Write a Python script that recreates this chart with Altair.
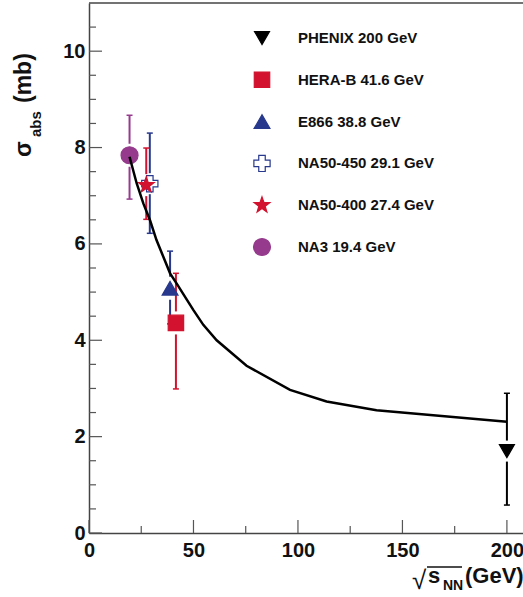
import math
import altair as alt
import pandas as pd

# ---------------- data ----------------
experiments = ["PHENIX 200 GeV", "HERA-B 41.6 GeV", "E866 38.8 GeV",
               "NA50-450 29.1 GeV", "NA50-400 27.4 GeV", "NA3 19.4 GeV"]
sqrt_s = [200.0, 41.6, 38.8, 29.1, 27.4, 19.4]
sigma = [1.70, 4.36, 5.08, 7.25, 7.22, 7.84]
err_low = [0.58, 2.99, 4.34, 6.22, 6.51, 6.93]
err_high = [2.90, 5.39, 5.85, 8.30, 7.99, 8.67]

curve_x = [19.4, 22.8, 26.0, 29.2, 32.3, 38.8, 41.9, 49.9, 54.7, 61.1, 75.4, 96.2, 113.7, 137.6, 200.0]
curve_y = [7.81, 7.26, 6.84, 6.49, 6.08, 5.39, 5.18, 4.63, 4.32, 4.00, 3.47, 2.97, 2.73, 2.55, 2.31]

x_major = [0, 50, 100, 150, 200]
x_minor = [25, 75, 125, 175]
y_major = [0, 2, 4, 6, 8, 10]
y_minor = [0.5, 1, 1.5, 2.5, 3, 3.5, 4.5, 5, 5.5, 6.5, 7, 7.5, 8.5, 9, 9.5, 10.5]

# ---------------- style ----------------
W, H = 434, 530
X_MAX, Y_MAX = 207.7, 11.0
PX_PER_UNIT = H / Y_MAX
FONT = "Liberation Sans"


def star_path(inner=0.40):
    pts = []
    for k in range(10):
        r = 1.0 if k % 2 == 0 else inner
        a = math.radians(-90 + 36 * k)
        pts.append(f"{r * math.cos(a):.4f},{r * math.sin(a):.4f}")
    return "M" + " L".join(pts) + " Z"


marker_shapes = ["triangle-down", "square", "triangle-up", "cross", star_path(), "circle"]
marker_stroke = ["#000000", "#D2122E", "#27388D", "#27388D", "#D2122E", "#953A8C"]
marker_fill = ["#000000", "#D2122E", "#27388D", "#FFFFFF", "#D2122E", "#953A8C"]
marker_px = [15, 17, 17, 15, 16, 17]

shape_scale = alt.Scale(domain=experiments, range=marker_shapes)
stroke_scale = alt.Scale(domain=experiments, range=marker_stroke)
fill_scale = alt.Scale(domain=experiments, range=marker_fill)
size_scale = alt.Scale(domain=experiments, range=[p * p for p in marker_px])

gap = [(p / 2 + 3) / PX_PER_UNIT for p in marker_px]

df = pd.DataFrame({"exp": experiments, "s": sqrt_s, "sigma": sigma,
                   "lo": err_low, "hi": err_high, "gap": gap})
df_curve = pd.DataFrame({"x": curve_x, "y": curve_y})

xs = alt.Scale(domain=[0, X_MAX], nice=False, zero=False)
ys = alt.Scale(domain=[0, Y_MAX], nice=False, zero=False)

axis_common = dict(labelFont=FONT, labelFontSize=20, labelFontWeight="bold",
                   labelColor="#111111", domainColor="#444444", domainWidth=1.5,
                   ticks=False, grid=False, title=None, labelFlush=False)

x_enc = alt.X("s:Q", scale=xs, axis=alt.Axis(values=x_major, labelPadding=7, format="d", **axis_common))
y_enc = alt.Y("sigma:Q", scale=ys, axis=alt.Axis(values=y_major, labelPadding=4, format="d", **axis_common))

base = alt.Chart(df).transform_calculate(
    lo_end="datum.sigma - datum.gap", hi_start="datum.sigma + datum.gap")

bar_low = base.mark_rule(strokeWidth=2).encode(
    x=x_enc, y=alt.Y("lo:Q", scale=ys), y2="lo_end:Q",
    color=alt.Color("exp:N", scale=stroke_scale, legend=None))
bar_high = base.mark_rule(strokeWidth=2).encode(
    x=alt.X("s:Q", scale=xs), y=alt.Y("hi_start:Q", scale=ys), y2="hi:Q",
    color=alt.Color("exp:N", scale=stroke_scale, legend=None))
caps_low = base.mark_point(shape="stroke", size=36, strokeWidth=1.5, opacity=1).encode(
    x=alt.X("s:Q", scale=xs), y=alt.Y("lo:Q", scale=ys),
    color=alt.Color("exp:N", scale=stroke_scale, legend=None))
caps_high = base.mark_point(shape="stroke", size=36, strokeWidth=1.5, opacity=1).encode(
    x=alt.X("s:Q", scale=xs), y=alt.Y("hi:Q", scale=ys),
    color=alt.Color("exp:N", scale=stroke_scale, legend=None))

points = alt.Chart(df).mark_point(opacity=1, fillOpacity=1, strokeWidth=1.2).encode(
    x=x_enc, y=y_enc,
    shape=alt.Shape("exp:N", scale=shape_scale, legend=None),
    fill=alt.Fill("exp:N", scale=fill_scale, legend=None),
    stroke=alt.Stroke("exp:N", scale=stroke_scale, legend=None),
    size=alt.Size("exp:N", scale=size_scale, legend=None))

curve = alt.Chart(df_curve).mark_line(color="black", strokeWidth=2.5).encode(
    x=alt.X("x:Q", scale=xs), y=alt.Y("y:Q", scale=ys))

tick_col = "#555555"
xt_major = alt.Chart(pd.DataFrame({"v": x_major})).mark_rule(color=tick_col, strokeWidth=1.2).encode(
    x=alt.X("v:Q", scale=xs), y=alt.value(H), y2=alt.value(H - 13))
xt_minor = alt.Chart(pd.DataFrame({"v": x_minor})).mark_rule(color=tick_col, strokeWidth=1.2).encode(
    x=alt.X("v:Q", scale=xs), y=alt.value(H), y2=alt.value(H - 7))
yt_major = alt.Chart(pd.DataFrame({"v": y_major})).mark_rule(color=tick_col, strokeWidth=1.2).encode(
    y=alt.Y("v:Q", scale=ys), x=alt.value(0), x2=alt.value(13))
yt_minor = alt.Chart(pd.DataFrame({"v": y_minor})).mark_rule(color=tick_col, strokeWidth=1.2).encode(
    y=alt.Y("v:Q", scale=ys), x=alt.value(0), x2=alt.value(7))
top_border = alt.Chart(pd.DataFrame({"v": [0]})).mark_rule(color="#444444", strokeWidth=1.5).encode(
    x=alt.value(0), x2=alt.value(W), y=alt.value(0))

one = pd.DataFrame({"v": [0]})


def txt(s, x, y, size, weight="bold", angle=0, align="left", baseline="alphabetic"):
    kw = dict(font=FONT, fontSize=size, fontWeight=weight, align=align,
              baseline=baseline, color="#111111")
    if angle:
        kw["angle"] = angle
    return alt.Chart(one).mark_text(**kw).encode(
        x=alt.value(x), y=alt.value(y), text=alt.value(s))


# y-axis title: sigma_abs (mb)
yt1 = txt("σ", -58, 154, 23, angle=270)
yt2 = txt("abs", -48, 134, 15, angle=270)
yt3 = txt("(mb)", -58, 100, 23, angle=270)

# x-axis title: sqrt(s_NN) (GeV)
xt1 = txt("√", 323, 586, 26, weight="normal")
xt_bar = alt.Chart(one).mark_rule(color="#111111", strokeWidth=1.3).encode(
    x=alt.value(338), x2=alt.value(373), y=alt.value(564))
xt2 = txt("s", 339, 580, 22)
xt3 = txt("NN", 354, 587, 14)
xt4 = txt("(GeV)", 376, 580, 22)

main = alt.layer(xt_major, xt_minor, yt_major, yt_minor, top_border,
                 bar_low, bar_high, caps_low, caps_high, points, curve,
                 yt1, yt2, yt3, xt1, xt_bar, xt2, xt3, xt4)

# legend
df_leg = pd.DataFrame({"exp": experiments, "row": list(range(len(experiments)))})
leg_y = alt.Y("row:Q", scale=alt.Scale(domain=[0, 5], range=[35, 244]), axis=None)
leg_pts = alt.Chart(df_leg).mark_point(opacity=1, fillOpacity=1, strokeWidth=1.2).encode(
    x=alt.value(173), y=leg_y,
    shape=alt.Shape("exp:N", scale=shape_scale, legend=None),
    fill=alt.Fill("exp:N", scale=fill_scale, legend=None),
    stroke=alt.Stroke("exp:N", scale=stroke_scale, legend=None),
    size=alt.Size("exp:N", scale=size_scale, legend=None))
leg_txt = alt.Chart(df_leg).mark_text(font=FONT, fontSize=15, fontWeight="bold",
                                      align="left", baseline="middle", color="#111111").encode(
    x=alt.value(209), y=leg_y, text="exp:N")
legend = alt.layer(leg_pts, leg_txt)

chart = alt.layer(main, legend).resolve_scale(x="independent", y="independent").properties(
    width=W, height=H,
    autosize=alt.AutoSizeParams(type="none"),
    padding={"left": 89, "top": 3, "right": 0, "bottom": 64},
    background="white",
).configure_view(stroke=None)

chart.save("out.html", embed_options={"renderer": "svg", "actions": False})
